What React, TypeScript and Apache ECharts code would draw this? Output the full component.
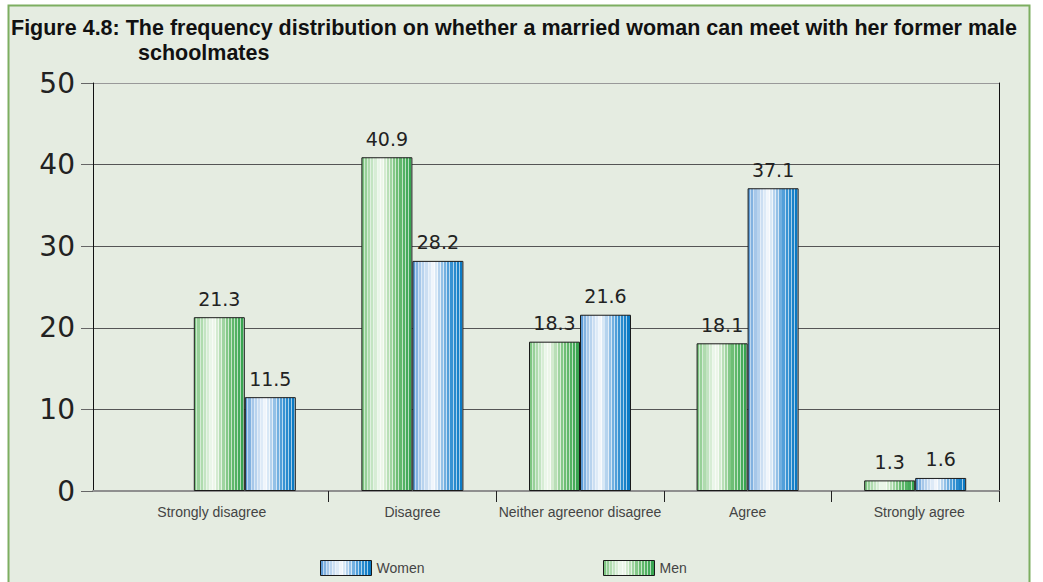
import React, { useEffect, useRef } from "react";
import * as echarts from "echarts";

const categories = [
  "Strongly disagree",
  "Disagree",
  "Neither agreenor disagree",
  "Agree",
  "Strongly agree",
];
const menValues = [21.3, 40.9, 18.3, 18.1, 1.3];
const womenValues = [11.5, 28.2, 21.6, 37.1, 1.6];
const yMin = 0;
const yMax = 50;
const yStep = 10;

const titleLine1 =
  "Figure 4.8: The frequency distribution on whether a married woman can meet with her former male";
const titleLine2 = "schoolmates";

function hexToRgb(h: string) {
  const v = parseInt(h.slice(1), 16);
  return [(v >> 16) & 255, (v >> 8) & 255, v & 255];
}
function rgbToHex(c: number[]) {
  return (
    "#" +
    c
      .map((x) => Math.max(0, Math.min(255, Math.round(x))).toString(16).padStart(2, "0"))
      .join("")
  );
}
function mix(a: string, b: string, t: number) {
  const A = hexToRgb(a);
  const B = hexToRgb(b);
  return rgbToHex(A.map((x, i) => x + (B[i] - x) * t));
}
function sample(keys: [number, string][], t: number) {
  for (let i = 0; i < keys.length - 1; i++) {
    const [t0, c0] = keys[i];
    const [t1, c1] = keys[i + 1];
    if (t >= t0 && t <= t1) return mix(c0, c1, (t - t0) / (t1 - t0));
  }
  return keys[keys.length - 1][1];
}
function stripes(keys: [number, string][], n: number) {
  const stops: { offset: number; color: string }[] = [];
  for (let i = 0; i < n; i++) {
    const a = i / n;
    const b = (i + 1) / n;
    const m = a + (b - a) * 0.7;
    const c = sample(keys, (a + b) / 2);
    const light = mix(c, "#ffffff", 0.6);
    stops.push({ offset: a, color: c }, { offset: m, color: c }, { offset: m, color: light }, { offset: b, color: light });
  }
  return new echarts.graphic.LinearGradient(0, 0, 1, 0, stops);
}

const greenKeys: [number, string][] = [
  [0, "#72c077"],
  [0.15, "#addaac"],
  [0.38, "#f6fbf4"],
  [0.5, "#c6e5c3"],
  [0.7, "#72c078"],
  [1, "#32a24c"],
];
const blueKeys: [number, string][] = [
  [0, "#4a90d2"],
  [0.15, "#a4c6e9"],
  [0.42, "#f4f8fc"],
  [0.55, "#aacdec"],
  [0.75, "#4097d5"],
  [1, "#0376c1"],
];

export default function App() {
  const ref = useRef<HTMLDivElement>(null);
  useEffect(() => {
    if (!ref.current) return;
    const chart = echarts.init(ref.current, undefined, { renderer: "svg" });
    const green = stripes(greenKeys, 16);
    const blue = stripes(blueKeys, 16);
    const catFont = "'Liberation Sans Narrow', 'Arial Narrow', 'Liberation Sans', sans-serif";
    const catStyle = { fontFamily: catFont, fontSize: 14, color: "#444" };
    const titleFont = {
      fontFamily: "'Liberation Sans', Arial, sans-serif",
      fontWeight: "bold",
      fontSize: 21.5,
      lineHeight: 25,
      color: "#111",
    };
    chart.setOption({
      animation: false,
      backgroundColor: "#ffffff",
      graphic: [
        {
          type: "rect",
          z: -100,
          silent: true,
          shape: { x: 8.5, y: 5.5, width: 1021, height: 610 },
          style: { fill: "#e5ece1", stroke: "#7dae61", lineWidth: 2 },
        },
      ],
      title: {
        text: `${titleLine1}\n{sp|}${titleLine2}`,
        left: 11,
        top: 15,
        padding: 0,
        textStyle: {
          ...titleFont,
          rich: { sp: { ...titleFont, width: 127 } },
        },
      },
      legend: [
        {
          data: ["Women"],
          left: 315,
          top: 555,
          icon: "rect",
          itemWidth: 51,
          itemHeight: 15,
          itemGap: 8,
          itemStyle: { borderWidth: 1, borderColor: "#1a1a1a" },
          textStyle: { fontFamily: catFont, fontSize: 14, color: "#444" },
        },
        {
          data: ["Men"],
          left: 598,
          top: 555,
          icon: "rect",
          itemWidth: 51,
          itemHeight: 15,
          itemGap: 8,
          itemStyle: { borderWidth: 1, borderColor: "#1a1a1a" },
          textStyle: { fontFamily: catFont, fontSize: 14, color: "#444" },
        },
      ],
      grid: [
        { left: 93, right: 44, top: 83, bottom: 91 },
        { left: 161, right: 44, top: 83, bottom: 91 },
      ],
      xAxis: [
        {
          gridIndex: 0,
          type: "value",
          min: 0,
          max: 1,
          axisLine: { show: true, onZero: false, lineStyle: { color: "#8f8f8f", width: 2 } },
          axisTick: { show: false },
          axisLabel: { show: false },
          splitLine: { show: false },
        },
        {
          gridIndex: 1,
          type: "category",
          data: categories,
          axisLine: { show: false },
          axisTick: {
            show: true,
            length: 11,
            interval: (i: number) => i !== 0,
            lineStyle: { color: "#222", width: 1 },
          },
          axisLabel: {
            margin: 14,
            ...catStyle,
            interval: 0,
            formatter: (v: string, i: number) =>
              i === 0 ? `{first|${v}}` : i === categories.length - 1 ? `{last|${v}}` : v,
            rich: {
              first: { ...catStyle, padding: [0, 66, 0, 0] },
              last: { ...catStyle, padding: [0, 0, 0, 8] },
            },
          },
        },
      ],
      yAxis: [
        {
          gridIndex: 0,
          type: "value",
          min: yMin,
          max: yMax,
          interval: yStep,
          axisLine: { show: true, lineStyle: { color: "#111", width: 1 } },
          axisTick: { show: true, length: 12, lineStyle: { color: "#666" } },
          axisLabel: { margin: 18, fontFamily: "'DejaVu Sans', sans-serif", fontSize: 28, color: "#222" },
          splitLine: {
            show: true,
            lineStyle: { color: ["#8f8f8f", "#555", "#555", "#555", "#555", "#999"], width: 1 },
          },
        },
        {
          gridIndex: 0,
          type: "value",
          position: "right",
          min: yMin,
          max: yMax,
          interval: yStep,
          axisLine: { show: true, lineStyle: { color: "#111", width: 1 } },
          axisTick: { show: false },
          axisLabel: { show: false },
          splitLine: { show: false },
        },
        {
          gridIndex: 1,
          type: "value",
          min: yMin,
          max: yMax,
          interval: yStep,
          show: false,
        },
      ],
      series: [
        {
          name: "Men",
          type: "bar",
          xAxisIndex: 1,
          yAxisIndex: 2,
          data: menValues,
          barWidth: 51,
          barGap: "0%",
          itemStyle: { color: green, borderColor: "#1a1a1a", borderWidth: 1 },
          label: {
            show: true,
            position: "top",
            distance: 9,
            fontFamily: "'DejaVu Sans', sans-serif",
            fontSize: 19,
            color: "#222",
          },
        },
        {
          name: "Women",
          type: "bar",
          xAxisIndex: 1,
          yAxisIndex: 2,
          data: womenValues,
          barWidth: 51,
          barGap: "0%",
          itemStyle: { color: blue, borderColor: "#1a1a1a", borderWidth: 1 },
          label: {
            show: true,
            position: "top",
            distance: 9,
            fontFamily: "'DejaVu Sans', sans-serif",
            fontSize: 19,
            color: "#222",
          },
        },
      ],
    });
    return () => chart.dispose();
  }, []);
  return (
    <div
      ref={ref}
      style={{ position: "absolute", left: 0, top: 0, width: 1043, height: 582 }}
    />
  );
}
